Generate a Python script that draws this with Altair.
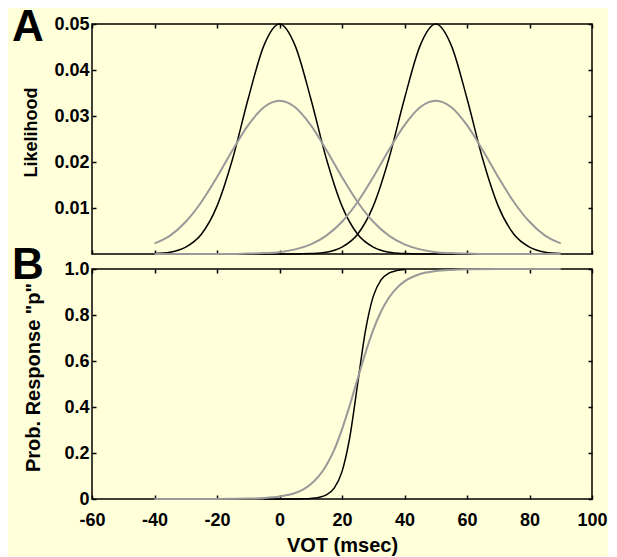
import altair as alt
import pandas as pd

# ---------------- data ----------------
# Panel A: likelihood curves over VOT (msec)
vot_a = [-40, -35, -30, -25, -20, -15, -10, -5, 0, 5, 10, 15, 20, 25, 30,
         35, 40, 45, 50, 55, 60, 65, 70, 75, 80, 85, 90]
black_b = [0.0001, 0.0004, 0.0015, 0.0043, 0.0104, 0.0207, 0.0338, 0.0453, 0.0500,
           0.0453, 0.0338, 0.0207, 0.0104, 0.0043, 0.0015, 0.0004, 0.0001, 0.0000,
           0.0, 0.0, 0.0, 0.0, 0.0, 0.0, 0.0, 0.0, 0.0]
black_p = [0.0, 0.0, 0.0, 0.0, 0.0, 0.0, 0.0, 0.0, 0.0,
           0.0000, 0.0001, 0.0004, 0.0015, 0.0043, 0.0104, 0.0207, 0.0338, 0.0453,
           0.0500, 0.0453, 0.0338, 0.0207, 0.0104, 0.0043, 0.0015, 0.0004, 0.0001]
gray_b = [0.0023, 0.0040, 0.0070, 0.0113, 0.0167, 0.0226, 0.0280, 0.0319, 0.0333,
          0.0319, 0.0280, 0.0226, 0.0167, 0.0113, 0.0070, 0.0040, 0.0021, 0.0010,
          0.0004, 0.0002, 0.0001, 0.0000, 0.0, 0.0, 0.0, 0.0, 0.0]
gray_p = [0.0, 0.0, 0.0, 0.0, 0.0, 0.0000, 0.0001, 0.0002, 0.0004,
          0.0010, 0.0021, 0.0040, 0.0070, 0.0113, 0.0167, 0.0226, 0.0280, 0.0319,
          0.0333, 0.0319, 0.0280, 0.0226, 0.0167, 0.0113, 0.0070, 0.0040, 0.0023]

# Panel B: probability of responding "p"
vot_b_black = [-5, -2.5, 0, 2.5, 5, 7.5, 10, 12.5, 15, 17.5, 20, 22.5, 25, 27.5,
               30, 32.5, 35, 37.5, 40]
resp_black = [0.0, 0.0, 0.0, 0.0001, 0.0003, 0.0009, 0.0025, 0.0067, 0.018, 0.047,
              0.119, 0.269, 0.5, 0.731, 0.881, 0.953, 0.982, 0.993, 0.998]
vot_b_gray = [-40, -30, -20, -10, -5, 0, 2.5, 5, 7.5, 10, 12.5, 15, 17.5, 20, 22.5,
              25, 27.5, 30, 32.5, 35, 37.5, 40, 45, 50, 55, 60, 70, 80, 90]
resp_gray = [0.0, 0.0, 0.0003, 0.0017, 0.0042, 0.0106, 0.017, 0.026, 0.041, 0.064,
             0.098, 0.147, 0.214, 0.303, 0.408, 0.523, 0.635, 0.735, 0.815, 0.875,
             0.917, 0.946, 0.978, 0.991, 0.996, 0.9986, 1.0, 1.0, 1.0]

x_ticks = [-60, -40, -20, 0, 20, 40, 60, 80, 100]
lik_ticks = [0.01, 0.02, 0.03, 0.04, 0.05]
prob_ticks = [0, 0.2, 0.4, 0.6, 0.8, 1.0]

# ---------------- tables ----------------
df_a_black = pd.concat([
    pd.DataFrame({"vot": vot_a, "val": black_b, "s": "b"}),
    pd.DataFrame({"vot": vot_a, "val": black_p, "s": "p"}),
])
df_a_gray = pd.concat([
    pd.DataFrame({"vot": vot_a, "val": gray_b, "s": "b"}),
    pd.DataFrame({"vot": vot_a, "val": gray_p, "s": "p"}),
])
df_b_black = pd.DataFrame({"vot": vot_b_black, "val": resp_black})
df_b_gray = pd.DataFrame({"vot": vot_b_gray, "val": resp_gray})

FONT = "Liberation Sans"
W, H = 500, 230
xscale = alt.Scale(domain=[-60, 100], nice=False, zero=False)
yscale_a = alt.Scale(domain=[0, 0.05], nice=False)
yscale_b = alt.Scale(domain=[0, 1], nice=False)

tick_common = dict(tickSize=4, offset=-4, domain=False, grid=False,
                   tickColor="black", tickWidth=1.5)
label_common = dict(labelFont=FONT, labelFontSize=18, labelFontWeight="bold",
                    labelColor="black", labelFlush=False, labelOverlap=False)
title_common = dict(titleFont=FONT, titleFontWeight="bold",
                    titleColor="black", titleBaseline="alphabetic")


def ticks_only(orient, values):
    return alt.Axis(orient=orient, values=values, labels=False, title=None, **tick_common)


def panel(df_black, df_gray, yscale, yvals, ytitle, ytitle_size, ylabelexpr, xtitle,
          letter, letter_y, title_x, has_detail):
    enc_detail = {"detail": "s:N"} if has_detail else {}
    if xtitle:
        xaxis_b = alt.Axis(orient="bottom", values=x_ticks, labelPadding=12,
                           labelExpr="'' + datum.value",
                           title=xtitle, titleY=56, titleFontSize=20,
                           **tick_common, **label_common, **title_common)
    else:
        xaxis_b = alt.Axis(orient="bottom", values=x_ticks, labels=False, title=None,
                           **tick_common)
    yaxis_l = alt.Axis(orient="left", values=yvals, labelPadding=3, labelExpr=ylabelexpr,
                       labelBaseline="middle", title=ytitle, titleX=title_x, titleY=108,
                       titleAngle=270, titleFontSize=ytitle_size,
                       **tick_common, **label_common, **title_common)
    black = alt.Chart(df_black).mark_line(color="black", strokeWidth=1.5,
                                          interpolate="monotone").encode(
        x=alt.X("vot:Q", scale=xscale, axis=xaxis_b),
        y=alt.Y("val:Q", scale=yscale, axis=yaxis_l),
        **enc_detail,
    )
    gray = alt.Chart(df_gray).mark_line(color="#999999", strokeWidth=2,
                                        interpolate="monotone").encode(
        x=alt.X("vot:Q", scale=xscale, axis=ticks_only("top", x_ticks)),
        y=alt.Y("val:Q", scale=yscale, axis=ticks_only("right", yvals)),
        **enc_detail,
    )
    txt = alt.Chart(pd.DataFrame({"t": [letter]})).mark_text(
        font=FONT, fontSize=44, fontWeight="bold", align="left",
        baseline="alphabetic", color="black").encode(
        text="t:N", x=alt.value(-80), y=alt.value(letter_y))
    return alt.layer(black, gray, txt).resolve_axis(
        x="independent", y="independent").properties(width=W, height=H)


panel_a = panel(df_a_black, df_a_gray, yscale_a, lik_ticks, "Likelihood", 18,
                "format(datum.value, '.2f')", None, "A", 17, -60, True)
panel_b = panel(df_b_black, df_b_gray, yscale_b, prob_ticks, 'Prob. Response "p"', 20,
                "datum.value == 0 ? '0' : format(datum.value, '.1f')",
                "VOT (msec)", "B", 10, -57, False)

chart = alt.vconcat(panel_a, panel_b, spacing=15, bounds="flush").properties(
    padding={"left": 3, "top": -3, "right": 0, "bottom": 0}
).configure(background="#FFFFDA").configure_view(
    stroke="black", strokeWidth=1.5
)

chart.save("out.html", embed_options={"renderer": "svg", "actions": False})
